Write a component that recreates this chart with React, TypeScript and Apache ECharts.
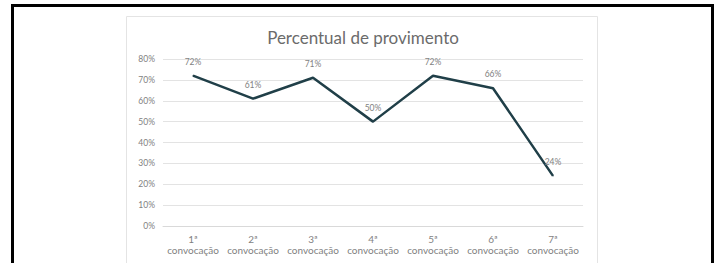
import React, { useEffect, useRef } from "react";
import * as echarts from "echarts";

const categories = ["1ª\nconvocação", "2ª\nconvocação", "3ª\nconvocação", "4ª\nconvocação", "5ª\nconvocação", "6ª\nconvocação", "7ª\nconvocação"];
const values = [72, 61, 71, 50, 72, 66, 24];
const yTicks = { min: 0, max: 80, interval: 10 };
const title = "Percentual de provimento";

export default function App() {
  const ref = useRef<HTMLDivElement>(null);
  useEffect(() => {
    if (!ref.current) return;
    const chart = echarts.init(ref.current, undefined, { renderer: "svg" });
    const font = "Lato, 'Noto Sans', sans-serif";
    chart.setOption({
      animation: false,
      backgroundColor: "#ffffff",
      title: {
        text: title,
        left: "center",
        top: 24,
        textStyle: { color: "#6b6b6b", fontSize: 17, fontWeight: "normal", fontFamily: font },
      },
      graphic: [
        {
          type: "rect",
          shape: { x: 126.5, y: 16.5, width: 471, height: 300 },
          style: { fill: "none", stroke: "#e4e4e4", lineWidth: 1 },
          silent: true,
        },
        {
          type: "rect",
          shape: { x: 12.5, y: 5.5, width: 700, height: 300 },
          style: { fill: "none", stroke: "#000000", lineWidth: 3 },
          silent: true,
        },
      ],
      grid: { left: 163, right: 143, top: 59, bottom: 37, containLabel: false },
      xAxis: {
        type: "category",
        data: categories,
        boundaryGap: true,
        axisLine: { show: true, lineStyle: { color: "#d9d9d9" } },
        axisTick: { show: false },
        axisLabel: { color: "#7f7f7f", fontSize: 10, fontFamily: font, lineHeight: 11, margin: 7, interval: 0 },
      },
      yAxis: {
        type: "value",
        min: yTicks.min,
        max: yTicks.max,
        interval: yTicks.interval,
        axisLine: { show: false },
        axisTick: { show: false },
        splitLine: { lineStyle: { color: "#e3e3e3", width: 1 } },
        axisLabel: { color: "#7f7f7f", fontSize: 8.5, fontFamily: font, formatter: "{value}%", margin: 8 },
      },
      series: [
        {
          type: "line",
          data: values,
          showSymbol: true,
          symbol: "circle",
          symbolSize: 1,
          itemStyle: { color: "#203f48" },
          lineStyle: { color: "#203f48", width: 2.5 },
          label: {
            show: true,
            position: "top",
            distance: 9,
            formatter: "{c}%",
            color: "#7f7f7f",
            fontSize: 8.5,
            fontFamily: font,
          },
        },
      ],
    });
    return () => chart.dispose();
  }, []);
  return <div ref={ref} style={{ position: "fixed", left: 0, top: 0, width: 726, height: 263 }} />;
}
